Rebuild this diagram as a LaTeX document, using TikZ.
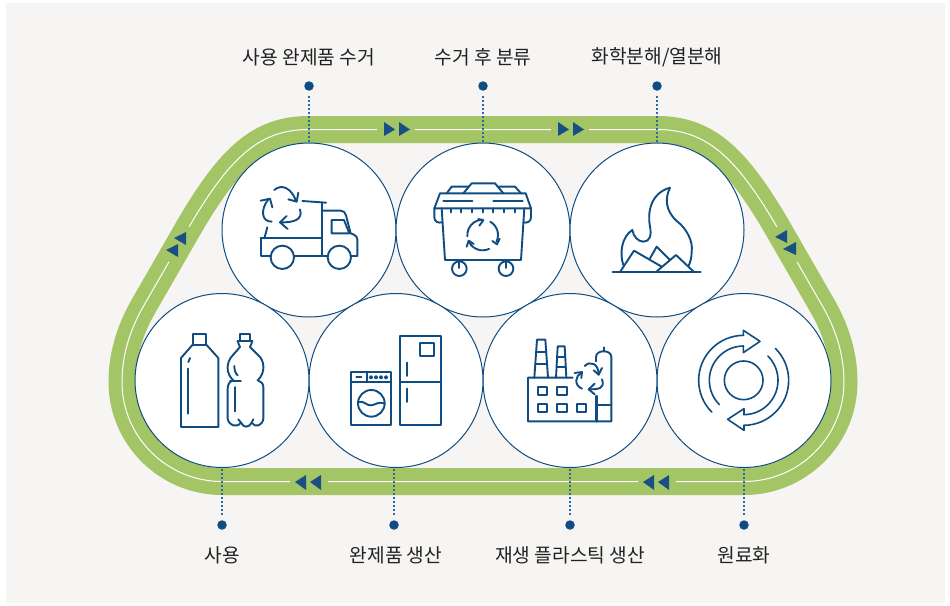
\documentclass[tikz,border=0pt]{standalone}
\usepackage{fontspec}
\setmainfont{Noto Sans CJK KR}
\definecolor{bgc}{HTML}{F6F5F3}
\definecolor{bandc}{HTML}{A3C566}
\definecolor{navy}{HTML}{0F4C81}
\definecolor{tric}{HTML}{1A4F86}
\definecolor{dotc}{HTML}{2F6A9C}
\definecolor{txtc}{HTML}{222222}
\tikzset{
  iconzone/.style 2 args={shift={(#1,#2)},x=0.33333pt,y=-0.33333pt},
  icon/.style={draw=navy,line width=1.9pt,line cap=round,line join=round,fill=none},
  thinicon/.style={icon,line width=1.6pt},
  ring/.style={circle,draw=navy,line width=1pt,fill=white,minimum size=174pt,inner sep=0pt},
  stepdot/.style={circle,fill=navy,minimum size=9.5pt,inner sep=0pt},
  lab/.style={text=txtc,font=\fontsize{19.2pt}{22pt}\selectfont,inner sep=0pt},
  leader/.style={draw=dotc,line width=1.2pt,dash pattern=on 2pt off 2pt},
  tri/.style={fill=tric},
  gapper/.style={draw=bandc,line width=4pt},
  trackpath/.style={line join=round}
}
\newcommand{\trackshape}{(309,129.5) -- (657,129.5)
  .. controls (705,129.5) and (735,155) .. (777,227)
  -- (823,307)
  .. controls (836,330) and (844,355) .. (844,382)
  .. controls (844,437) and (799,481.5) .. (744,481.5)
  -- (222,481.5)
  .. controls (167,481.5) and (122,437) .. (122,382)
  .. controls (122,355) and (130,330) .. (143,307)
  -- (189,227)
  .. controls (231,155) and (261,129.5) .. (309,129.5) -- cycle}
\begin{document}
\begin{tikzpicture}[x=1pt,y=-1pt]
\useasboundingbox (0,0) rectangle (950,605);
\fill[white] (0,0) rectangle (950,605);
\fill[bgc] (6,3) rectangle (945,603);
% track
\draw[draw=bandc,line width=27pt,trackpath] \trackshape;
\draw[draw=white,line width=1pt,trackpath] \trackshape;
\draw[gapper] (377,129.5) -- (415,129.5);
\draw[gapper] (551,129.5) -- (589,129.5);
\draw[gapper] (777,227) -- (797,261.8);
\draw[gapper] (189,227) -- (169,261.8);
\draw[gapper] (290,481.5) -- (328,481.5);
\draw[gapper] (638,481.5) -- (676,481.5);
% triangles
\fill[tri] (384,122) -- (395,129.5) -- (384,136) -- cycle;
\fill[tri] (399,122) -- (410,129.5) -- (399,136) -- cycle;
\fill[tri] (558,122) -- (569,129.5) -- (558,136) -- cycle;
\fill[tri] (573,122) -- (584,129.5) -- (573,136) -- cycle;
\fill[tri] (295,482) -- (306,475) -- (306,490) -- cycle;
\fill[tri] (310,482) -- (321,475) -- (321,490) -- cycle;
\fill[tri] (643,482) -- (654,475) -- (654,490) -- cycle;
\fill[tri] (658,482) -- (669,475) -- (669,490) -- cycle;
\fill[tri] (174,238) -- (186,232) -- (186,245) -- cycle;
\fill[tri] (166,250) -- (178,244) -- (178,257) -- cycle;
\fill[tri] (775,237) -- (787,230) -- (787,243) -- cycle;
\fill[tri] (783,249) -- (796,242) -- (796,255) -- cycle;
% circles
\node[ring] (c1) at (309,230) {};
\node[ring] (c2) at (483,230) {};
\node[ring] (c3) at (657,230) {};
\node[ring] (c4) at (744,380.5) {};
\node[ring] (c5) at (570,380.5) {};
\node[ring] (c6) at (396,380.5) {};
\node[ring] (c7) at (222,380.5) {};
% dots and leaders
\node[stepdot] (d1) at (309,86) {};
\node[stepdot] (d2) at (483,86) {};
\node[stepdot] (d3) at (657,86) {};
\node[stepdot] (d4) at (744,525) {};
\node[stepdot] (d5) at (570,525) {};
\node[stepdot] (d6) at (394,525) {};
\node[stepdot] (d7) at (222,525) {};
\foreach \k in {1,2,3} {\draw[leader,shorten <=5pt] (d\k) -- (c\k.north);}
\foreach \k in {4,...,7} {\draw[leader,shorten <=5pt] (d\k) -- (d\k |- c\k.south);}
% labels
\node[lab] (l1) at (309,57) {사용 완제품 수거};
\node[lab] (l2) at (483,57) {수거 후 분류};
\node[lab] (l3) at (657,57) {화학분해/열분해};
\node[lab] (l4) at (744,555) {원료화};
\node[lab] (l5) at (570,555) {재생 플라스틱 생산};
\node[lab] (l6) at (396,555) {완제품 생산};
\node[lab] (l7) at (222,555) {사용};
% truck
\begin{scope}[iconzone={220}{140}]
\draw[icon] (122,295) -- (305,295);
\draw[icon] (152,348) -- (122,348) -- (122,295);
\draw[icon] (222,348) -- (322,348);
\draw[icon] (305,348) -- (305,190);
\draw[icon] (247,183) -- (318,188);
\draw[icon] (305,212) -- (362,212) .. controls (372,212) and (375,218) .. (378,226) -- (392,280) -- (400,283) .. controls (408,286) and (412,292) .. (412,298) -- (412,348) -- (392,348);
\draw[icon] (335,240) -- (372,240) -- (388,280) -- (335,280) -- cycle;
\draw[icon] (187,352) circle[radius=35];
\draw[icon] (358,352) circle[radius=35];
\draw[icon] (142,262) -- (133,295);
\draw[icon] (163,150) .. controls (185,130) and (215,145) .. (228,183);
\draw[icon] (205,178) -- (230,185) -- (235,158);
\draw[icon] (155,245) .. controls (125,245) and (120,210) .. (145,178);
\draw[icon] (122,182) -- (150,176) -- (157,202);
\draw[icon] (240,208) .. controls (250,240) and (220,248) .. (180,247);
\draw[icon] (200,228) -- (180,247) -- (203,267);
\end{scope}
% bin
\begin{scope}[iconzone={395}{140}]
\draw[icon] (135,160) -- (392,160) -- (408,205) -- (118,205) -- cycle;
\draw[icon] (155,160) -- (170,140) -- (222,140);
\draw[icon] (205,160) -- (230,130) -- (300,130) -- (325,160);
\draw[icon] (312,140) -- (360,140) -- (378,160);
\draw[icon] (145,183) -- (232,183);
\draw[icon] (295,183) -- (383,183);
\foreach \t in {168,199,231,263,295,327,359} {\draw[icon] (\t,205) -- (\t,217);}
\draw[icon] (118,205) -- (118,232) .. controls (118,245) and (130,250) .. (140,247);
\draw[icon] (408,205) -- (408,232) .. controls (408,245) and (396,250) .. (385,247);
\draw[icon] (140,205) -- (150,360) -- (378,360) -- (388,205);
\draw[icon] (193,386) circle[radius=22];
\draw[icon] (333,386) circle[radius=22];
\draw[icon] (193,364) -- (193,384);
\draw[icon] (333,364) -- (333,384);
\draw[icon] (263,285) ++(175:46) arc[start angle=175,end angle=270,radius=46];
\draw[icon] (250,237) -- (265,241) -- (253,257);
\draw[icon] (263,285) ++(300:46) arc[start angle=300,end angle=385,radius=46];
\draw[icon] (292,303) -- (306,313) -- (314,296);
\draw[icon] (263,285) ++(65:46) arc[start angle=65,end angle=150,radius=46];
\draw[icon] (215,320) -- (221,302) -- (236,312);
\end{scope}
% flame
\begin{scope}[iconzone={570}{140}]
\draw[icon] (128,396) -- (392,396);
\draw[icon] (150,396) -- (192,332) -- (275,380);
\draw[icon] (240,355) -- (260,320) -- (300,360);
\draw[icon] (258,396) -- (318,345) -- (372,396);
\draw[icon] (160,375) .. controls (148,340) and (155,290) .. (187,270)
  .. controls (190,290) and (205,305) .. (220,305)
  .. controls (240,305) and (245,285) .. (240,260)
  .. controls (232,220) and (240,160) .. (300,143)
  .. controls (285,175) and (285,210) .. (320,243)
  .. controls (350,265) and (370,305) .. (365,335)
  .. controls (365,355) and (360,370) .. (355,378);
\end{scope}
% bottles
\begin{scope}[iconzone={135}{292}]
\draw[icon] (173,158) -- (173,127) -- (214,127) -- (214,158) -- cycle;
\draw[icon] (173,158) -- (138,198) -- (138,405) -- (250,405) -- (250,198) -- (214,158);
\draw[icon] (160,230) -- (160,365);
\draw[icon] (160,210) -- (165,198);
\draw[icon] (315,147) -- (315,127) -- (345,127) -- (345,147);
\draw[icon] (308,147) -- (352,147);
\draw[icon] (352,147) .. controls (352,155) and (346,157) .. (345,165);
\draw[icon] (308,147) .. controls (308,155) and (314,157) .. (315,165);
\draw[icon] (315,165) -- (295,188) .. controls (272,210) and (272,245) .. (295,265)
  .. controls (283,268) and (278,278) .. (278,290) -- (278,380)
  .. controls (282,402) and (305,408) .. (318,392)
  .. controls (325,408) and (342,408) .. (350,392)
  .. controls (360,408) and (382,402) .. (385,380) -- (385,285)
  .. controls (385,272) and (375,268) .. (368,265)
  .. controls (392,243) and (390,205) .. (368,188) -- (345,165);
\draw[icon] (285,266) -- (318,266);
\draw[icon] (298,222) .. controls (298,235) and (302,245) .. (308,250);
\draw[icon] (300,285) -- (300,358);
\draw[icon] (310,382) -- (318,392);
\draw[icon] (350,392) -- (355,382);
\end{scope}
% appliances
\begin{scope}[iconzone={308}{292}]
\draw[icon] (277,132) rectangle (398,400);
\draw[icon] (277,270) -- (398,270);
\draw[icon] (337,152) rectangle (378,192);
\draw[icon] (298,212) -- (298,252);
\draw[icon] (298,290) -- (298,330);
\draw[icon] (130,241) rectangle (250,400);
\draw[icon] (130,270) -- (250,270);
\draw[icon] (176,241) -- (176,270);
\draw[icon] (145,256) -- (160,256);
\foreach \t in {189,204,219,234} {\draw[thinicon] (\t,256) circle[radius=4];}
\draw[icon] (190,334) circle[radius=40];
\draw[icon] (150,330) .. controls (170,325) and (175,342) .. (190,340) .. controls (205,338) and (210,327) .. (230,335);
\end{scope}
% factory
\begin{scope}[iconzone={482}{292}]
\draw[icon] (272,257) -- (138,257) -- (138,388) -- (388,388) -- (388,195) .. controls (388,172) and (342,172) .. (342,195) -- (342,208);
\draw[icon] (365,166) -- (365,178);
\draw[icon,line width=2.4pt] (343,312) -- (343,388);
\draw[icon] (343,338) -- (388,338);
\draw[icon] (157,257) -- (165,143) -- (190,143) -- (198,257);
\draw[icon] (162,180) -- (193,180);
\draw[icon] (160,217) -- (195,217);
\draw[icon] (222,257) -- (227,163) -- (248,163) -- (253,257);
\draw[icon] (225,195) -- (250,195);
\draw[icon] (224,225) -- (251,225);
\draw[icon] (168,285) rectangle (196,308);
\draw[icon] (226,285) rectangle (255,308);
\draw[icon] (168,337) rectangle (196,361);
\draw[icon] (226,337) rectangle (255,361);
\draw[icon] (284,337) rectangle (313,361);
\draw[icon] (308,222) .. controls (325,205) and (350,215) .. (350,248);
\draw[icon] (335,235) -- (350,248) -- (360,228);
\draw[icon] (300,290) .. controls (275,280) and (280,250) .. (298,243);
\draw[icon] (278,243) -- (300,240) -- (298,258);
\draw[icon] (360,262) .. controls (370,290) and (350,292) .. (320,292);
\draw[icon] (338,275) -- (320,292) -- (338,307);
\end{scope}
% recycle arrows
\begin{scope}[iconzone={655}{292}]
\draw[thinicon] (266,265) circle[radius=58];
\draw[thinicon] (266,265) ++(135:135) arc[start angle=135,end angle=270,radius=135];
\draw[thinicon] (266,265) ++(135:103) arc[start angle=135,end angle=270,radius=103];
\draw[thinicon] (265,130) -- (265,115) -- (315,148) -- (265,182) -- (265,162);
\draw[thinicon] (266,265) ++(-45:135) arc[start angle=-45,end angle=90,radius=135];
\draw[thinicon] (266,265) ++(-45:103) arc[start angle=-45,end angle=90,radius=103];
\draw[thinicon] (267,400) -- (267,415) -- (218,382) -- (267,350) -- (267,368);
\end{scope}
\end{tikzpicture}
\end{document}
